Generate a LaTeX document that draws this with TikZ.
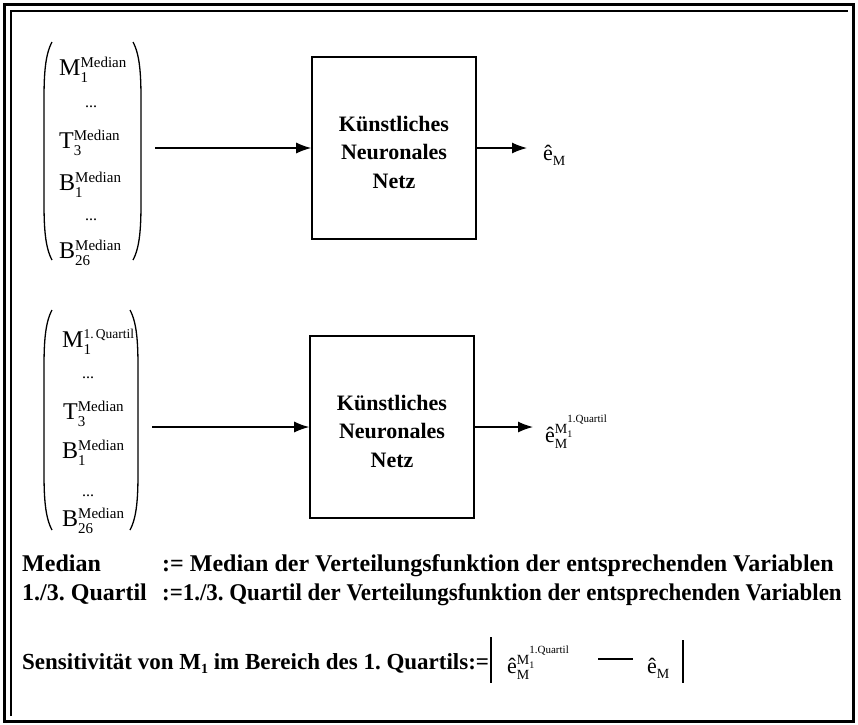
\documentclass[tikz,border=0pt]{standalone}
\usepackage{fontspec}
\setmainfont{Liberation Serif}
\usetikzlibrary{arrows.meta}
\newcommand\supsubent[3]{#1\rlap{\raisebox{-7pt}{\fontsize{15}{15}\selectfont #2}}\raisebox{8pt}{\fontsize{15}{15}\selectfont #3}}
\newcommand\supsubq[3]{#1\rlap{\raisebox{-7pt}{\fontsize{15}{15}\selectfont #2}}\raisebox{9pt}{\fontsize{13.5}{14}\selectfont #3}}
\newcommand\ehatM{ê\raisebox{-5pt}{\fontsize{14}{14}\selectfont M}}
\newcommand\ehatMq{ê\rlap{\raisebox{-6pt}{\fontsize{14}{14}\selectfont M}}\raisebox{9pt}{\fontsize{14}{14}\selectfont M\rlap{\raisebox{-4pt}{\fontsize{10}{10}\selectfont 1}}\raisebox{11pt}{\fontsize{11}{11}\selectfont 1.Quartil}}}
\begin{document}
\frenchspacing
\begin{tikzpicture}[x=1pt,y=-1pt,
  ent/.style={font=\fontsize{24}{26}\selectfont, inner sep=0pt, anchor=base west},
  dotsent/.style={font=\fontsize{16}{16}\selectfont, inner sep=0pt},
  nnbox/.style={draw, line width=1.6pt, minimum width=164pt, minimum height=182pt, inner sep=0pt},
  nntext/.style={font=\fontsize{22}{28.5}\selectfont\bfseries, align=center, inner sep=0pt},
  arr/.style={line width=1.3pt, -{Latex[length=15pt,width=11pt]}},
  paren/.style={line width=1.3pt},
  deftext/.style={font=\fontsize{24}{26}\selectfont\bfseries, inner sep=0pt, anchor=base west},
  senstext/.style={font=\fontsize{23}{26}\selectfont\bfseries, inner sep=0pt, anchor=base west},
  lbl/.style={font=\fontsize{22}{24}\selectfont, inner sep=0pt, anchor=base west}
]
\fill[white] (0,0) rectangle (858,724);
\useasboundingbox (0,0) rectangle (858,724);
% frame
\draw[line width=3pt] (4,4) rectangle (853,721);
\draw[line width=1.2pt] (11,716) -- (11,11) -- (848,11);

% ---------- top block ----------
\draw[paren] (52,42) .. controls (45,55) and (44,75) .. (44,100) -- (44,202) .. controls (44,227) and (45,247) .. (52,260);
\draw[paren] (133,42) .. controls (140,55) and (141,75) .. (141,100) -- (141,202) .. controls (141,227) and (140,247) .. (133,260);
\node[ent] (a1) at (59,75) {\supsubent{M}{1}{Median}};
\node[dotsent] (a2) at (91,107) {...};
\node[ent] (a3) at (59,148) {\supsubent{T}{3}{Median}};
\node[ent] (a4) at (59,190) {\supsubent{B}{1}{Median}};
\node[dotsent] (a5) at (91,220) {...};
\node[ent] (a6) at (59,258) {\supsubent{B}{26}{Median}};

\coordinate (in1) at (155,148);
\node[nnbox] (k1) at (394,148) {};
\node[nntext] (t1) at (394,152) {Künstliches\\Neuronales\\Netz};
\coordinate (out1) at (527,148);
\draw[arr] (in1) -- (k1);
\draw[arr] (k1) -- (out1);
\node[lbl] (e1) at (543,160) {\ehatM};

% ---------- bottom block ----------
\draw[paren] (52,310) .. controls (45,323) and (44,343) .. (44,368) -- (44,472) .. controls (44,497) and (45,517) .. (52,530);
\draw[paren] (130,310) .. controls (137,323) and (138,343) .. (138,368) -- (138,472) .. controls (138,497) and (137,517) .. (130,530);
\node[ent] (b1) at (62,347) {\supsubq{M}{1}{1.\,Quartil}};
\node[dotsent] (b2) at (88,378) {...};
\node[ent] (b3) at (63,419) {\supsubent{T}{3}{Median}};
\node[ent] (b4) at (62,458) {\supsubent{B}{1}{Median}};
\node[dotsent] (b5) at (88,496) {...};
\node[ent] (b6) at (62,526) {\supsubent{B}{26}{Median}};

\coordinate (in2) at (152,427);
\node[nnbox] (k2) at (392,427) {};
\node[nntext] (t2) at (392,431) {Künstliches\\Neuronales\\Netz};
\coordinate (out2) at (533,427);
\draw[arr] (in2) -- (k2);
\draw[arr] (k2) -- (out2);
\node[lbl] (e2) at (545,442) {\ehatMq};

% ---------- definitions ----------
\node[deftext] (d1) at (22,571) {Median};
\node[deftext] (d1b) at (162,571) {:= Median der Verteilungsfunktion der entsprechenden Variablen};
\node[deftext] (d2) at (22,600) {1./3. Quartil};
\node[deftext] (d2b) at (162,600) {\scalebox{0.955}[1]{:=1./3. Quartil der Verteilungsfunktion der entsprechenden Variablen}};

\node[senstext] (s1) at (22,669) {Sensitivität von M\raisebox{-4pt}{\fontsize{14}{14}\selectfont 1} im Bereich des 1. Quartils:=};
\coordinate (bl1) at (491,637);
\coordinate (bl2) at (491,683);
\draw[line width=1.3pt] (bl1) -- (bl2);
\node[lbl] (s2) at (507,673) {\ehatMq};
\coordinate (m1) at (598,659);
\coordinate (m2) at (633,659);
\draw[line width=1.5pt] (m1) -- (m2);
\node[lbl] (s3) at (647,673) {\ehatM};
\coordinate (br1) at (683,640);
\coordinate (br2) at (683,683);
\draw[line width=1.3pt] (br1) -- (br2);
\end{tikzpicture}
\end{document}
